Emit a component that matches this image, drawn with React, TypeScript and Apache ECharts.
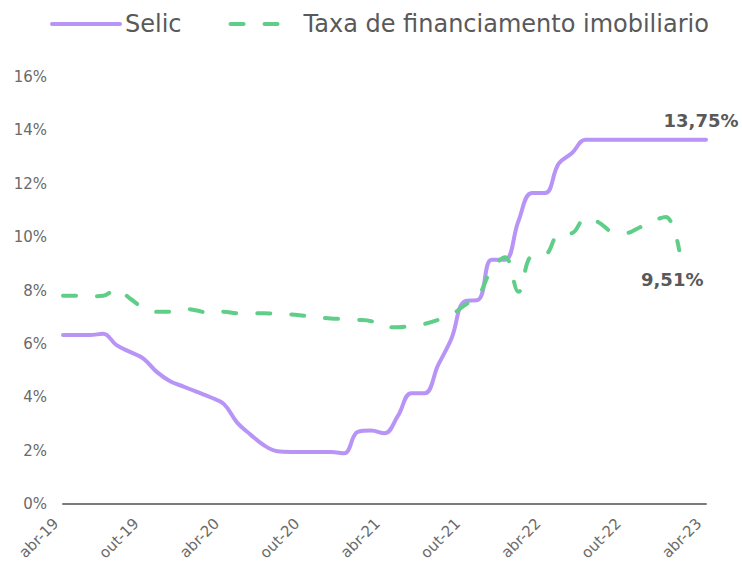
import React, { useEffect, useRef } from "react";
import * as echarts from "echarts";

const monthNames = ["jan", "fev", "mar", "abr", "mai", "jun", "jul", "ago", "set", "out", "nov", "dez"];
const categories: string[] = [];
for (let y = 19; y <= 23; y++) {
  for (let m = 0; m < 12; m++) {
    if (y === 19 && m < 3) continue;
    if (y === 23 && m > 3) continue;
    categories.push(`${monthNames[m]}-${y}`);
  }
}

const selic = [
  6.33, 6.33, 6.33, 6.38, 5.95, 5.7, 5.45, 4.95, 4.6, 4.4, 4.2, 4.0,
  3.75, 3.05, 2.6, 2.2, 1.98, 1.95, 1.95, 1.95, 1.95, 1.9, 2.7, 2.75,
  2.65, 3.3, 4.15, 4.15, 5.2, 6.2, 7.6, 7.65, 9.15, 9.15, 10.6, 11.65,
  11.65, 12.75, 13.15, 13.65, 13.65, 13.65, 13.65, 13.65, 13.65, 13.65, 13.65, 13.65,
  13.65,
];

const financiamento = [
  7.8, 7.8, 7.78, 7.8, 8.05, 7.7, 7.35, 7.2, 7.2, 7.32, 7.25, 7.15,
  7.2, 7.15, 7.15, 7.15, 7.12, 7.1, 7.05, 7.0, 6.95, 6.93, 6.9, 6.85,
  6.62, 6.62, 6.68, 6.75, 6.9, 7.1, 7.45, 7.8, 8.8, 9.25, 7.95, 9.3,
  9.35, 10.1, 10.15, 10.7, 10.55, 10.2, 10.15, 10.35, 10.6, 10.75, 9.51,
];

const seriesNames = ["Selic", "Taxa de financiamento imobiliario"];
const endLabels = ["13,75%", "9,51%"];
const yTicks = { min: 0, max: 16, interval: 2 };

const FONT = "DejaVu Sans";

export default function App() {
  const ref = useRef<HTMLDivElement>(null);
  useEffect(() => {
    if (!ref.current) return;
    const chart = echarts.init(ref.current, undefined, { renderer: "svg" });
    const lastSelic = selic.length - 1;
    const lastFin = financiamento.length - 1;
    chart.setOption({
      animation: false,
      backgroundColor: "#ffffff",
      textStyle: { fontFamily: FONT },
      legend: {
        left: 45,
        top: 7,
        itemWidth: 68,
        itemHeight: 14,
        itemGap: 47,
        itemStyle: { opacity: 0 },
        lineStyle: { width: 4, cap: "round" },
        textStyle: { fontSize: 24, color: "#595959", fontFamily: FONT },
        data: seriesNames,
      },
      grid: { left: 63, right: 36, top: 77, bottom: 67 },
      xAxis: {
        type: "category",
        data: categories,
        boundaryGap: false,
        axisLine: { lineStyle: { color: "#7a7a7a", width: 2 } },
        axisTick: { show: false },
        axisLabel: {
          interval: 5,
          rotate: 45,
          margin: 10,
          padding: [0, 10, 0, 0],
          fontSize: 15,
          color: "#6a6a6a",
          fontFamily: FONT,
        },
      },
      yAxis: {
        type: "value",
        min: yTicks.min,
        max: yTicks.max,
        interval: yTicks.interval,
        axisLine: { show: false },
        axisTick: { show: false },
        splitLine: { show: false },
        axisLabel: {
          formatter: "{value}%",
          fontSize: 15,
          margin: 16,
          color: "#6a6a6a",
          fontFamily: FONT,
        },
      },
      series: [
        {
          name: seriesNames[0],
          type: "line",
          data: selic,
          smooth: 0.4,
          symbol: "none",
          color: "#B794F6",
          lineStyle: { width: 4, color: "#B794F6", cap: "round" },
          markPoint: {
            symbol: "circle",
            symbolSize: 0,
            data: [
              {
                coord: [lastSelic, selic[lastSelic]],
                label: {
                  show: true,
                  formatter: endLabels[0],
                  position: "top",
                  distance: 0,
                  offset: [-5, -10],
                  fontSize: 18,
                  fontWeight: "bold",
                  color: "#595959",
                  fontFamily: FONT,
                },
              },
            ],
          },
        },
        {
          name: seriesNames[1],
          type: "line",
          data: financiamento,
          smooth: 0.4,
          symbol: "none",
          color: "#5FCE88",
          lineStyle: { width: 4, color: "#5FCE88", type: [13, 21], cap: "round" },
          markPoint: {
            symbol: "circle",
            symbolSize: 0,
            data: [
              {
                coord: [lastFin, financiamento[lastFin]],
                label: {
                  show: true,
                  formatter: endLabels[1],
                  position: "bottom",
                  distance: 0,
                  offset: [-7, 20],
                  fontSize: 18,
                  fontWeight: "bold",
                  color: "#595959",
                  fontFamily: FONT,
                },
              },
            ],
          },
        },
      ],
    });
    return () => chart.dispose();
  }, []);
  return (
    <div
      ref={ref}
      style={{ position: "fixed", left: 0, top: 0, width: 742, height: 571 }}
    />
  );
}
